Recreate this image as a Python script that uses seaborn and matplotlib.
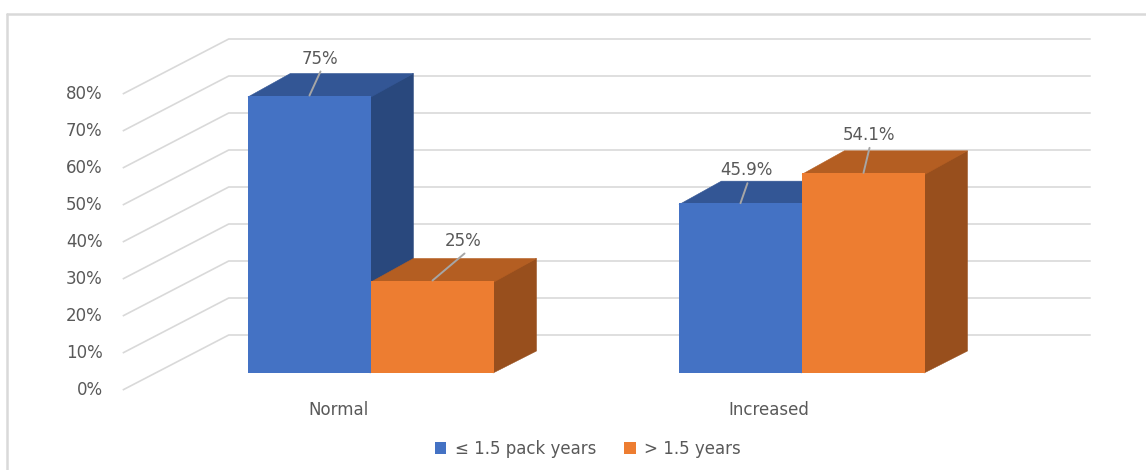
import matplotlib
matplotlib.use("Agg")
import matplotlib.pyplot as plt
from matplotlib.patches import Polygon, Patch
from matplotlib.lines import Line2D
import seaborn as sns
import pandas as pd

# ---------------- data ----------------
categories = ["Normal", "Increased"]
series = ["\u2264 1.5 pack years", "> 1.5 years"]
values_low = [75, 45.9]     # <= 1.5 pack years (%)
values_high = [25, 54.1]    # > 1.5 years (%)
y_ticks = [0, 10, 20, 30, 40, 50, 60, 70, 80]

# ---------------- styling ----------------
front_cols = ["#4472C4", "#ED7D31"]
top_cols = ["#335695", "#B45E22"]
side_cols = ["#29487D", "#984F1D"]
text_col = "#595959"
grid_col = "#D9D9D9"
FS = 12

W, H = 1146, 470
PX_X = 431.0   # pixels per category unit
PX_Y = 3.7     # pixels per percent
X0, Y0 = 371.0, 373.0  # pixel position of (x=0, v=0) in bar plane

DEPTH = (106 / PX_X, 55 / PX_Y)   # full floor depth in data units
D_FRONT = -17 / 55
D_BACK = 38 / 55
D_BAR = 22 / 55

def proj(x, v, d):
    return x + d * DEPTH[0], v + d * DEPTH[1]

def px2dx(p):
    return p / PX_X

def px2dv(p):
    return p / PX_Y

df = pd.DataFrame({
    "category": categories * 2,
    "group": [series[0]] * len(categories) + [series[1]] * len(categories),
    "value": values_low + values_high,
})

sns.set_theme(style="white")
plt.rcParams["font.family"] = ["DejaVu Sans"]

fig = plt.figure(figsize=(W / 100, H / 100), dpi=100)
ax = fig.add_axes([0, 0, 1, 1])

sns.barplot(data=df, x="category", y="value", hue="group", order=categories,
            hue_order=series, palette=front_cols, width=0.571, saturation=1,
            legend=False, ax=ax, linewidth=0, edgecolor="none")

ax.set_xlim(-X0 / PX_X, (W - X0) / PX_X)
ax.set_ylim((Y0 - H) / PX_Y, Y0 / PX_Y)
ax.axis("off")

# back wall + side wall gridlines
xl, xr = -0.5, 1.5
for v in y_ticks:
    p1 = proj(xl, v, D_FRONT)
    p2 = proj(xl, v, D_BACK)
    p3 = proj(xr, v, D_BACK)
    ax.plot([p1[0], p2[0], p3[0]], [p1[1], p2[1], p3[1]], color=grid_col,
            lw=1.2, zorder=1, solid_capstyle="butt")
    ax.text(p1[0] - px2dx(20), p1[1], f"{v}%", ha="right", va="center",
            fontsize=FS, color=text_col)

for i, c in enumerate(categories):
    p = proj(i, 0, D_FRONT)
    ax.text(p[0], p[1] - px2dv(20), c, ha="center", va="center",
            fontsize=FS, color=text_col)

# 3D faces built from the bar patches seaborn drew
bars = sorted([p for p in ax.patches if p.get_height() > 0], key=lambda r: r.get_x())
label_offsets_px = [(10, -37), (31, -40), (6, -33), (5, -38)]
seam = px2dv(1.5)
for k, bar in enumerate(bars):
    x0 = bar.get_x()
    x1 = x0 + bar.get_width()
    h = bar.get_height()
    hue_idx = 0 if k % 2 == 0 else 1
    z = 3 + k
    bar.set_zorder(z + 0.5)
    top = [(x0, h - seam), (x1, h - seam), proj(x1, h, D_BAR), proj(x0, h, D_BAR)]
    side = [(x1 - px2dx(1), 0), (x1 - px2dx(1), h), proj(x1, h, D_BAR),
            proj(x1, 0, D_BAR)]
    ax.add_patch(Polygon(side, closed=True, facecolor=side_cols[hue_idx],
                         edgecolor=side_cols[hue_idx], lw=0.4, zorder=z))
    ax.add_patch(Polygon(top, closed=True, facecolor=top_cols[hue_idx],
                         edgecolor=top_cols[hue_idx], lw=0.4, zorder=z + 0.2))
    # label with leader line
    cx = (x0 + x1) / 2
    ox, oy = label_offsets_px[k]
    lx, ly = cx + px2dx(ox), h - px2dv(oy)
    ax.plot([cx, lx + px2dx(1)], [h, ly - px2dv(13)], color="#A6A6A6",
            lw=1.4, zorder=20)
    ax.text(lx, ly, f"{h:g}%", ha="center", va="center", fontsize=FS,
            color=text_col, zorder=21)

# legend
handles = [Patch(facecolor=front_cols[i], edgecolor="none", label=series[i])
           for i in range(2)]
fig.legend(handles=handles, loc="center", bbox_to_anchor=(588 / W, 1 - 449 / H),
           ncol=2, frameon=False, fontsize=FS, handlelength=0.7,
           handleheight=0.7, handletextpad=0.5, columnspacing=1.7,
           labelcolor=text_col)

# outer frame (top and left edges visible)
fig.add_artist(Line2D([7 / W, 1], [1 - 14 / H, 1 - 14 / H], color=grid_col,
                      lw=1.8, transform=fig.transFigure))
fig.add_artist(Line2D([7 / W, 7 / W], [0, 1 - 14 / H], color=grid_col,
                      lw=1.8, transform=fig.transFigure))

fig.savefig("out.png", dpi=100, facecolor="white")
